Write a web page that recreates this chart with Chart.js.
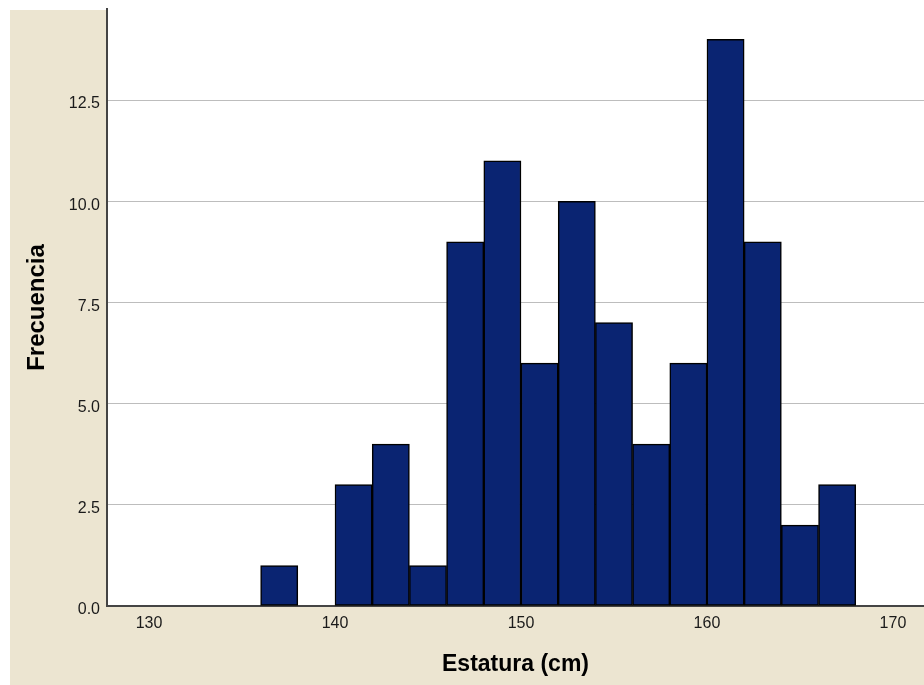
<!DOCTYPE html>
<html>
<head>
<meta charset="utf-8">
<script src="https://cdn.jsdelivr.net/npm/chart.js@4.4.1/dist/chart.umd.min.js"></script>
<style>
html,body{margin:0;padding:0;background:#fff;}
canvas{display:block;}
</style>
</head>
<body>
<canvas id="c" width="924" height="685"></canvas>
<script>
// Histogram data: bin starts (cm) and frequencies
const binStarts = [136,138,140,142,144,146,148,150,152,154,156,158,160,162,164,166];
const binWidth = 2;
const counts = [1,0,3,4,1,9,11,6,10,7,4,6,14,9,2,3];
const xTicks = [130,140,150,160,170];
const yTicks = [0,2.5,5,7.5,10,12.5];
const xTitle = 'Estatura (cm)';
const yTitle = 'Frecuencia';

const bgPlugin = {
  id: 'bg',
  beforeDraw(chart) {
    const {ctx, chartArea: a, width, height} = chart;
    ctx.save();
    ctx.fillStyle = '#ffffff';
    ctx.fillRect(0, 0, width, height);
    ctx.fillStyle = '#ece5d1';
    ctx.fillRect(10, 10, width - 10, height - 10);
    ctx.fillStyle = '#ffffff';
    ctx.fillRect(a.left, a.top, a.right - a.left, a.bottom - a.top);
    ctx.restore();
  }
};

new Chart(document.getElementById('c'), {
  type: 'bar',
  data: {
    datasets: [{
      data: binStarts.map((s, i) => ({x: s + binWidth / 2, y: counts[i]})),
      backgroundColor: '#0a2472',
      borderColor: '#000000',
      borderWidth: 1.5,
      borderSkipped: false,
      barPercentage: 1,
      categoryPercentage: 1
    }]
  },
  options: {
    responsive: false,
    animation: false,
    layout: {padding: {top: 9, left: 0, right: 0, bottom: 0}},
    plugins: {legend: {display: false}, tooltip: {enabled: false}},
    scales: {
      x: {
        type: 'linear',
        offset: false,
        min: 127.74,
        max: 171.67,
        afterBuildTicks: s => { s.ticks = xTicks.map(v => ({value: v})); },
        afterFit: s => { s.height = 79; s.paddingLeft = 0; s.paddingRight = 0; },
        grid: {display: false, drawTicks: false, offset: false},
        border: {display: true, color: '#444444', width: 2},
        ticks: {
          padding: 8,
          color: '#1a1a1a',
          font: {family: '"Liberation Sans", Arial, sans-serif', size: 16},
          maxRotation: 0,
          autoSkip: false
        },
        title: {
          display: true,
          text: xTitle,
          color: '#000000',
          font: {family: '"Liberation Sans", Arial, sans-serif', size: 23, weight: 'bold'},
          padding: {top: 0, bottom: 7}
        }
      },
      y: {
        type: 'linear',
        min: 0,
        max: 14.75,
        afterBuildTicks: s => { s.ticks = yTicks.map(v => ({value: v})); },
        afterFit: s => { s.width = 107; s.paddingTop = 0; s.paddingBottom = 0; },
        grid: {color: '#bdbdbd', lineWidth: 1, drawTicks: false},
        border: {display: true, color: '#444444', width: 2},
        ticks: {
          padding: 7,
          labelOffset: 4,
          color: '#1a1a1a',
          font: {family: '"Liberation Sans", Arial, sans-serif', size: 16},
          callback: v => Number(v).toFixed(1)
        },
        title: {
          display: true,
          text: yTitle,
          color: '#000000',
          font: {family: '"Liberation Sans", Arial, sans-serif', size: 24, weight: 'bold'},
          padding: {top: 23, bottom: 0}
        }
      }
    }
  },
  plugins: [bgPlugin]
});
</script>
</body>
</html>
